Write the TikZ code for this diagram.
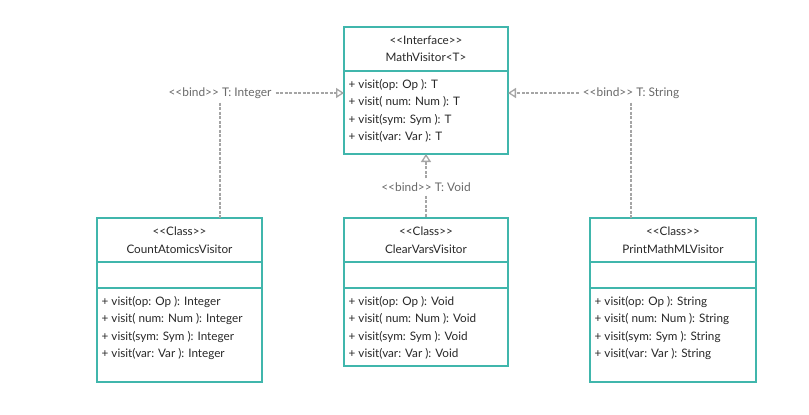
\documentclass[tikz,border=0pt]{standalone}
\usepackage{fontspec}
\setmainfont{Lato}
\usetikzlibrary{positioning,arrows.meta}

\definecolor{umlteal}{RGB}{64,182,172}
\definecolor{bindgray}{RGB}{165,165,165}
\definecolor{umltext}{RGB}{40,40,40}
\definecolor{bindtext}{RGB}{105,105,105}
\newcommand{\stereo}[1]{<{}<#1>{}>}

\begin{document}
\begin{tikzpicture}[x=1pt,y=-1pt,
  umlbox/.style={draw=umlteal, line width=1.6pt, fill=white, inner sep=0pt, outer sep=0pt},
  hdr/.style={umlbox, anchor=north west, align=center, text=umltext, font=\fontsize{11.7}{17.5}\selectfont},
  methods/.style={text=umltext, anchor=north west, align=left, inner xsep=4.5pt, inner ysep=8.5pt, font=\fontsize{11.7}{17.2}\selectfont},
  bind/.style={text=bindtext, font=\fontsize{11.9}{12}\selectfont, inner sep=4pt},
  bindline/.style={draw=bindgray, line width=1.3pt, dash pattern=on 3pt off 1.5pt},
  realize/.style={bindline, -{Triangle[open, length=8pt, width=10pt]}}]
\useasboundingbox (0,0) rectangle (809,415);

% interface
\node[hdr, minimum width=164, minimum height=44] (iface) at (344,27) {\stereo{Interface}\\MathVisitor<T>};
\node[umlbox, minimum width=164, minimum height=83, below=0pt of iface] (ifm) {};
\node[methods] at (ifm.north west) {+ visit(op: Op ): T\\+ visit( num: Num ): T\\+ visit(sym: Sym ): T\\+ visit(var: Var ): T};

% classes
\node[hdr, minimum width=165, minimum height=44] (ca) at (97,218) {\stereo{Class}\\CountAtomicsVisitor};
\node[umlbox, minimum width=165, minimum height=26, below=0pt of ca] (caa) {};
\node[umlbox, minimum width=165, minimum height=94, below=0pt of caa] (cam) {};
\node[methods] at (cam.north west) {+ visit(op: Op ): Integer\\+ visit( num: Num ): Integer\\+ visit(sym: Sym ): Integer\\+ visit(var: Var ): Integer};

\node[hdr, minimum width=164, minimum height=44] (cv) at (344,218) {\stereo{Class}\\ClearVarsVisitor};
\node[umlbox, minimum width=164, minimum height=26, below=0pt of cv] (cva) {};
\node[umlbox, minimum width=164, minimum height=78, below=0pt of cva] (cvm) {};
\node[methods] at (cvm.north west) {+ visit(op: Op ): Void\\+ visit( num: Num ): Void\\+ visit(sym: Sym ): Void\\+ visit(var: Var ): Void};

\node[hdr, minimum width=166, minimum height=44] (pm) at (590,218) {\stereo{Class}\\PrintMathMLVisitor};
\node[umlbox, minimum width=166, minimum height=26, below=0pt of pm] (pma) {};
\node[umlbox, minimum width=166, minimum height=94, below=0pt of pma] (pmm) {};
\node[methods] at (pmm.north west) {+ visit(op: Op ): String\\+ visit( num: Num ): String\\+ visit(sym: Sym ): String\\+ visit(var: Var ): String};

% bindings
\node[bind] (bint) at (220,93) {\stereo{bind} T: Integer};
\node[bind] (bstr) at (631,93) {\stereo{bind} T: String};
\node[bind] (bvoid) at (426,187) {\stereo{bind} T: Void};

\draw[bindline] (bint) -- (bint |- ca.north);
\draw[realize] (bint) -- (bint -| ifm.west);
\draw[bindline] (bstr) -- (bstr |- pm.north);
\draw[realize] (bstr) -- (bstr -| ifm.east);
\draw[bindline] (bvoid) -- (cv.north);
\draw[realize] (bvoid) -- (ifm.south);
\end{tikzpicture}
\end{document}
